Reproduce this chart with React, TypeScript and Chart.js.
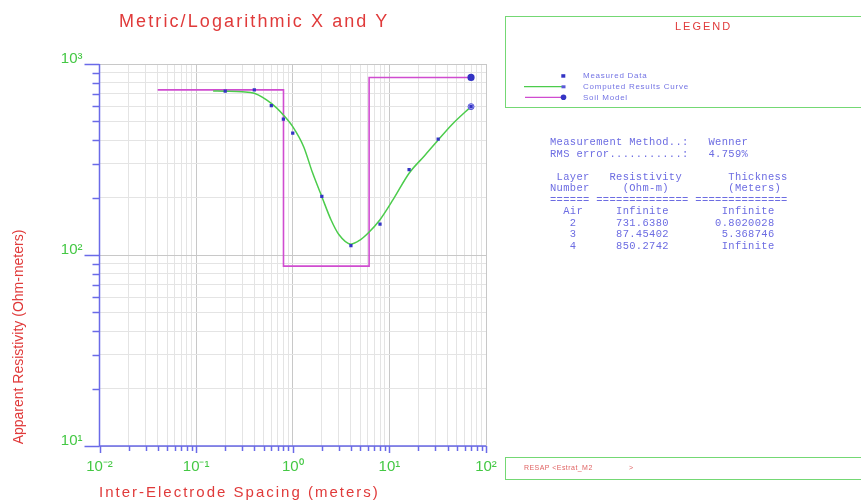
import React, { useEffect, useRef } from 'react';
import { Chart, registerables } from 'chart.js';

Chart.register(...registerables);

// ---- data ----
const measuredX = [0.2, 0.4, 0.6, 0.8, 1, 2, 4, 8, 16, 32, 70];
const measuredY = [722, 731, 605, 515, 435, 203, 112, 145, 280, 404, 598];

const curveX = [0.15, 0.2, 0.3, 0.4, 0.6, 0.8, 1, 1.3, 1.6, 2, 2.5, 3, 4, 5, 6, 8, 11, 16, 23, 32, 45, 70];
const curveY = [722, 721, 716, 703, 622, 541, 470, 368, 270, 202, 152, 128, 114, 120, 130, 153, 196, 268, 330, 400, 485, 598];

const layerResistivity = [731.638, 87.45402, 850.2742];
const layerThickness = [0.8020028, 5.368746];
const modelStartX = 0.04;
const modelEndX = 70;

const xTickLabels = ['10\u207B\u00B2', '10\u207B\u00B9', '10\u2070', '10\u00B9', '10\u00B2'];
const yTickLabels = ['10\u00B9', '10\u00B2', '10\u00B3'];
const xExpMin = -2;
const xExpMax = 2;
const yExpMin = 1;
const yExpMax = 3;

const tableLines = [
  'Measurement Method..:   Wenner',
  'RMS error...........:   4.759%',
  '',
  ' Layer   Resistivity       Thickness',
  'Number     (Ohm-m)         (Meters)',
  '====== ============== ==============',
  '  Air     Infinite        Infinite',
  '   2      731.6380       0.8020028',
  '   3      87.45402        5.368746',
  '   4      850.2742        Infinite',
];

// ---- styles ----
const RED = '#e03a3a';
const GREEN_TXT = '#44c844';
const AXIS_BLUE = '#6a6ae8';
const CURVE_GREEN = '#4ccc4c';
const SOIL_MAGENTA = '#d04cd0';
const MARK_BLUE = '#3434c4';
const LEGEND_TXT = '#7474e4';
const BOX_GREEN = '#74d874';
const SANS = '"Liberation Sans", Arial, sans-serif';

const isPow10 = (v: number) => {
  const l = Math.log10(v);
  return Math.abs(l - Math.round(l)) < 1e-9;
};

const logTicks = (eMin: number, eMax: number) => {
  const t: { value: number; major: boolean }[] = [];
  for (let e = eMin; e < eMax; e++) {
    for (let m = 1; m <= 9; m++) {
      t.push({ value: parseFloat((m * Math.pow(10, e)).toPrecision(6)), major: m === 1 });
    }
  }
  t.push({ value: Math.pow(10, eMax), major: true });
  return t;
};

const soilPoints = () => {
  const pts: { x: number; y: number }[] = [{ x: modelStartX, y: layerResistivity[0] }];
  let depth = 0;
  layerThickness.forEach((th, i) => {
    depth += th;
    pts.push({ x: depth, y: layerResistivity[i] });
    pts.push({ x: depth, y: layerResistivity[i + 1] });
  });
  pts.push({ x: modelEndX, y: layerResistivity[layerResistivity.length - 1] });
  return pts;
};

const axisPlugin = {
  id: 'axisMarks',
  afterDraw(chart: any) {
    const { ctx, chartArea: a, scales } = chart;
    const xs = scales.x;
    const ys = scales.y;
    ctx.save();
    ctx.strokeStyle = AXIS_BLUE;
    ctx.lineWidth = 1.5;
    ys.ticks.forEach((t: any) => {
      const p = Math.round(ys.getPixelForValue(t.value)) + 0.5;
      const len = isPow10(t.value) ? 15 : 7;
      ctx.beginPath();
      ctx.moveTo(a.left - len, p);
      ctx.lineTo(a.left, p);
      ctx.stroke();
    });
    xs.ticks.forEach((t: any) => {
      const p = Math.round(xs.getPixelForValue(t.value)) + 0.5;
      const len = isPow10(t.value) ? 7 : 5;
      ctx.beginPath();
      ctx.moveTo(p, a.bottom);
      ctx.lineTo(p, a.bottom + len);
      ctx.stroke();
    });
    ctx.beginPath();
    ctx.moveTo(a.left, a.top);
    ctx.lineTo(a.left, a.bottom);
    ctx.lineTo(a.right, a.bottom);
    ctx.stroke();
    ctx.restore();
  },
};

export default function App() {
  const ref = useRef<HTMLCanvasElement | null>(null);

  useEffect(() => {
    if (!ref.current) return;
    const lastCurve = curveX.length - 1;
    const soil = soilPoints();
    const lastSoil = soil.length - 1;
    const chart = new Chart(ref.current, {
      type: 'scatter',
      data: {
        datasets: [
          {
            label: 'Measured Data',
            data: measuredX.map((x, i) => ({ x, y: measuredY[i] })),
            showLine: false,
            pointStyle: 'rect',
            pointRadius: 2.3,
            backgroundColor: MARK_BLUE,
            borderColor: MARK_BLUE,
            borderWidth: 0,
            order: 0,
          },
          {
            label: 'Computed Results Curve',
            data: curveX.map((x, i) => ({ x, y: curveY[i] })),
            showLine: true,
            borderColor: CURVE_GREEN,
            borderWidth: 1.5,
            cubicInterpolationMode: 'monotone',
            pointRadius: (c: any) => (c.dataIndex === lastCurve ? 3 : 0),
            pointStyle: 'circle',
            pointBackgroundColor: '#b0b0f4',
            pointBorderColor: '#5a5ad8',
            pointBorderWidth: 1,
            order: 1,
          },
          {
            label: 'Soil Model',
            data: soil,
            showLine: true,
            borderColor: SOIL_MAGENTA,
            borderWidth: 1.6,
            tension: 0,
            pointRadius: (c: any) => (c.dataIndex === lastSoil ? 2.8 : 0),
            pointStyle: 'circle',
            pointBackgroundColor: MARK_BLUE,
            pointBorderColor: MARK_BLUE,
            order: 2,
          },
        ],
      },
      options: {
        animation: false,
        responsive: false,
        events: [],
        layout: { padding: { left: 0, top: 64, right: 375, bottom: 0 } },
        plugins: { legend: { display: false }, title: { display: false }, tooltip: { enabled: false } },
        scales: {
          x: {
            type: 'logarithmic',
            min: Math.pow(10, xExpMin),
            max: Math.pow(10, xExpMax),
            afterBuildTicks: (s: any) => {
              s.ticks = logTicks(xExpMin, xExpMax);
            },
            afterFit: (s: any) => {
              s.height = 54;
            },
            border: { display: false },
            grid: {
              drawTicks: false,
              color: (c: any) => (c.tick && isPow10(c.tick.value) ? '#c8c8c8' : '#e4e4e4'),
              lineWidth: 1,
            },
            ticks: {
              autoSkip: false,
              maxRotation: 0,
              minRotation: 0,
              padding: 12,
              color: GREEN_TXT,
              font: { family: SANS, size: 15 },
              callback: (v: any) => {
                const n = Number(v);
                return isPow10(n) ? xTickLabels[Math.round(Math.log10(n)) - xExpMin] : '';
              },
            },
          },
          y: {
            type: 'logarithmic',
            min: Math.pow(10, yExpMin),
            max: Math.pow(10, yExpMax),
            afterBuildTicks: (s: any) => {
              s.ticks = logTicks(yExpMin, yExpMax);
            },
            afterFit: (s: any) => {
              s.width = 99.5;
            },
            border: { display: false },
            grid: {
              drawTicks: false,
              color: (c: any) => (c.tick && isPow10(c.tick.value) ? '#c8c8c8' : '#e4e4e4'),
              lineWidth: 1,
            },
            ticks: {
              autoSkip: false,
              padding: 17,
              labelOffset: -5,
              color: GREEN_TXT,
              font: { family: SANS, size: 15 },
              callback: (v: any) => {
                const n = Number(v);
                return isPow10(n) ? yTickLabels[Math.round(Math.log10(n)) - yExpMin] : '';
              },
            },
          },
        },
      },
      plugins: [axisPlugin],
    } as any);
    return () => chart.destroy();
  }, []);

  const abs = (o: any): React.CSSProperties => ({ position: 'absolute', whiteSpace: 'pre', ...o });

  return (
    <div style={{ position: 'absolute', left: 0, top: 0, width: 861, height: 500, overflow: 'hidden', background: '#fff', fontFamily: SANS }}>
      <canvas ref={ref} width={861} height={500} style={{ position: 'absolute', left: 0, top: 0, width: 861, height: 500 }} />

      <div style={abs({ left: 119, top: 12, fontSize: 18, lineHeight: '18px', letterSpacing: 2.1, color: RED })}>Metric/Logarithmic X and Y</div>
      <div style={abs({ left: 99, top: 483.5, fontSize: 15, lineHeight: '15px', letterSpacing: 2, color: RED })}>Inter-Electrode Spacing (meters)</div>
      <div style={abs({ left: 17.9 - 150, top: 337 - 7, width: 300, height: 14, fontSize: 14, lineHeight: '14px', textAlign: 'center', color: RED, transform: 'rotate(-90deg)', transformOrigin: '50% 50%' })}>Apparent Resistivity (Ohm-meters)</div>

      {/* legend box */}
      <div style={abs({ left: 505, top: 16, width: 370, height: 90, border: `1.5px solid ${BOX_GREEN}` })} />
      <div style={abs({ left: 675, top: 20.6, fontSize: 11, lineHeight: '11px', letterSpacing: 2, color: RED })}>LEGEND</div>
      <div style={abs({ left: 583, top: 71.5, fontSize: 8, lineHeight: '8px', letterSpacing: 0.75, color: LEGEND_TXT })}>Measured Data</div>
      <div style={abs({ left: 583, top: 83.2, fontSize: 8, lineHeight: '8px', letterSpacing: 0.75, color: LEGEND_TXT })}>Computed Results Curve</div>
      <div style={abs({ left: 583, top: 93.5, fontSize: 8, lineHeight: '8px', letterSpacing: 0.75, color: LEGEND_TXT })}>Soil Model</div>
      <svg width={861} height={500} style={{ position: 'absolute', left: 0, top: 0, pointerEvents: 'none' }}>
        <rect x={561.3} y={74.2} width={4} height={3.5} fill={MARK_BLUE} />
        <line x1={524} y1={86.7} x2={563} y2={86.7} stroke={CURVE_GREEN} strokeWidth={1.3} />
        <rect x={561.5} y={85.3} width={4} height={3} fill="#5a5ad8" />
        <line x1={525} y1={97.3} x2={563} y2={97.3} stroke={SOIL_MAGENTA} strokeWidth={1.3} />
        <circle cx={563.5} cy={97.3} r={2.8} fill={MARK_BLUE} />
      </svg>

      {/* results table */}
      <div style={abs({ left: 550, top: 137, fontFamily: '"Liberation Mono", "DejaVu Sans Mono", monospace', fontSize: 10.45, lineHeight: '11.55px', letterSpacing: 0.34, color: '#6c6ce2' })}>
        {tableLines.join('\n')}
      </div>

      {/* bottom box */}
      <div style={abs({ left: 505, top: 456.5, width: 370, height: 21.5, border: `1.5px solid ${BOX_GREEN}` })} />
      <div style={abs({ left: 524, top: 464, fontSize: 7, lineHeight: '7px', letterSpacing: 0.45, color: '#e06464' })}>RESAP &lt;Estrat_M2</div>
      <div style={abs({ left: 629, top: 464, fontSize: 7, lineHeight: '7px', color: '#e06464' })}>&gt;</div>
    </div>
  );
}
